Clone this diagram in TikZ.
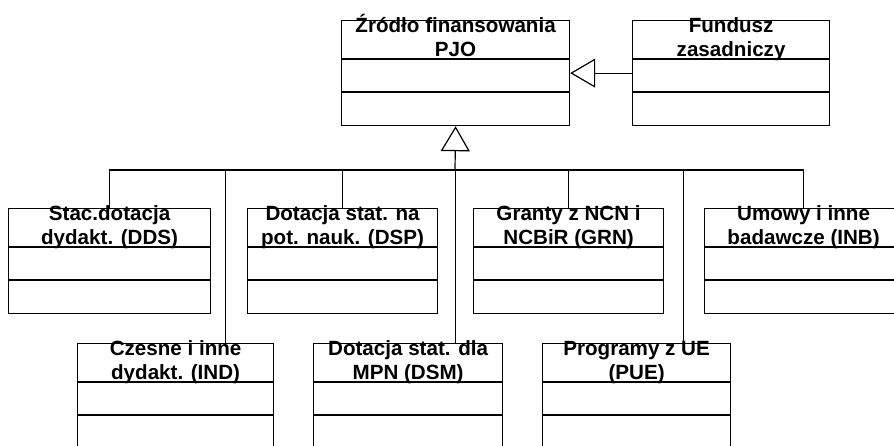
\documentclass[tikz,border=0pt]{standalone}
\usepackage{fontspec}
\setmainfont{Liberation Sans}
\usetikzlibrary{arrows.meta}
% two separators of a class box
\newcommand{\compartments}[1]{%
    \draw ([yshift=-39pt]#1.north west) -- ([yshift=-39pt]#1.north east);
    \draw ([yshift=-72pt]#1.north west) -- ([yshift=-72pt]#1.north east);}
\begin{document}
\begin{tikzpicture}[x=1pt, y=-1pt, line width=1.2pt,
    classbox/.style={draw, anchor=north west, minimum height=105pt, inner sep=0pt},
    classname/.style={anchor=base, align=center, inner sep=0pt,
        font=\fontsize{20.6}{24}\selectfont\bfseries},
    inherit/.style={-{Triangle[open, length=25pt, width=29pt, fill=white]}}]
    \useasboundingbox (0,0) rectangle (894,445);
    \clip (0,0) rectangle (894,445);
    % Top classes
    \node[classbox, minimum width=228pt] (pjo) at (341,20) {};
    \node[classbox, minimum width=197pt] (fz) at (632,20) {};
    % First row
    \node[classbox, minimum width=202pt] (dds) at (8,208) {};
    \node[classbox, minimum width=190pt] (dsp) at (247,208) {};
    \node[classbox, minimum width=190pt] (grn) at (473,208) {};
    \node[classbox, minimum width=198pt] (inb) at (704,208) {};
    % Second row
    \node[classbox, minimum width=196pt] (ind) at (77,343) {};
    \node[classbox, minimum width=189pt] (dsm) at (313,343) {};
    \node[classbox, minimum width=188pt] (pue) at (542,343) {};
    % Compartments
    \foreach \c in {pjo,fz,dds,dsp,grn,inb,ind,dsm,pue} {
        \compartments{\c}
    }
    % Names (base = second line)
    \node[classname] (pjo-name) at ([yshift=-36.5pt]pjo.north) {Źródło finansowania\\PJO};
    \node[classname] (fz-name) at ([yshift=-36.5pt]fz.north) {Fundusz\\zasadniczy};
    \node[classname] (dds-name) at ([yshift=-36.5pt]dds.north) {Stac.dotacja\\dydakt. (DDS)};
    \node[classname] (dsp-name) at ([yshift=-36.5pt]dsp.north) {Dotacja stat. na\\pot. nauk. (DSP)};
    \node[classname] (grn-name) at ([yshift=-36.5pt]grn.north) {Granty z NCN i\\NCBiR (GRN)};
    \node[classname] (inb-name) at ([yshift=-36.5pt]inb.north) {Umowy i inne\\badawcze (INB)};
    \node[classname] (ind-name) at ([yshift=-36.5pt]ind.north) {Czesne i inne\\dydakt. (IND)};
    \node[classname] (dsm-name) at ([yshift=-36.5pt]dsm.north) {Dotacja stat. dla\\MPN (DSM)};
    \node[classname] (pue-name) at ([yshift=-36.5pt]pue.north) {Programy z UE\\(PUE)};
    % Generalisation
    \coordinate (bus) at (455,170);
    \draw (dds.north) |- (bus);
    \draw (dsp.north) |- (bus);
    \draw (grn.north) |- (bus);
    \draw (inb.north) |- (bus);
    \draw ([xshift=50pt]ind.north) |- (bus);
    \draw ([xshift=47.5pt]dsm.north) |- (bus);
    \draw ([xshift=47pt]pue.north) |- (bus);
    \draw[inherit] (bus) -- (pjo.south);
    \draw[inherit] (fz.west) -- (pjo.east);
\end{tikzpicture}
\end{document}
